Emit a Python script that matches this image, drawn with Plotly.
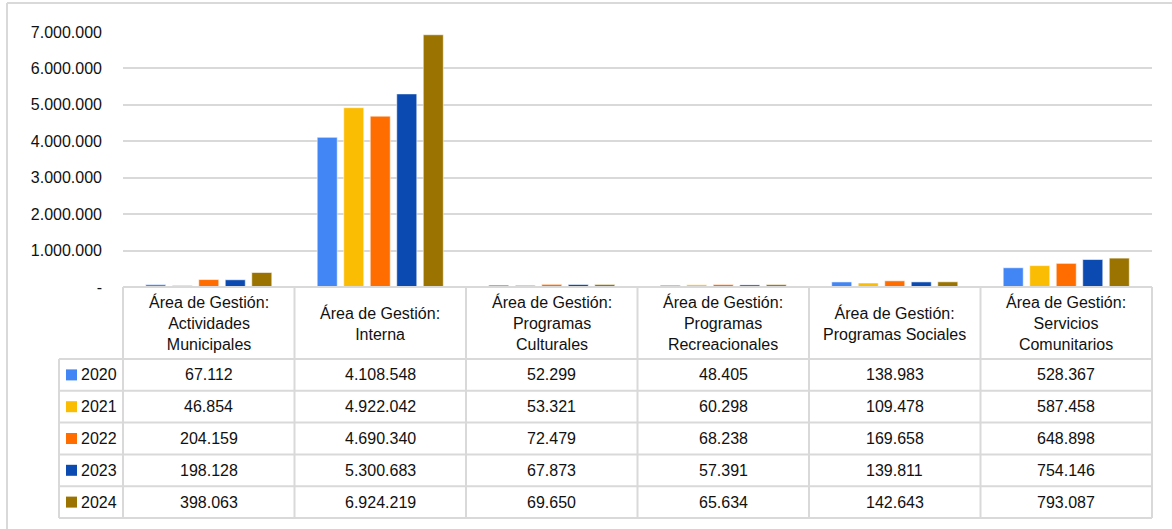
import plotly.graph_objects as go

# Management areas (table headers) and yearly amounts
categories = [
    "Área de Gestión: Actividades Municipales",
    "Área de Gestión: Interna",
    "Área de Gestión: Programas Culturales",
    "Área de Gestión: Programas Recreacionales",
    "Área de Gestión: Programas Sociales",
    "Área de Gestión: Servicios Comunitarios",
]
header_labels = [
    "Área de Gestión:<br>Actividades<br>Municipales",
    "Área de Gestión:<br>Interna",
    "Área de Gestión:<br>Programas<br>Culturales",
    "Área de Gestión:<br>Programas<br>Recreacionales",
    "Área de Gestión:<br>Programas Sociales",
    "Área de Gestión:<br>Servicios<br>Comunitarios",
]
years = ["2020", "2021", "2022", "2023", "2024"]
values_2020 = [67112, 4108548, 52299, 48405, 138983, 528367]
values_2021 = [46854, 4922042, 53321, 60298, 109478, 587458]
values_2022 = [204159, 4690340, 72479, 68238, 169658, 648898]
values_2023 = [198128, 5300683, 67873, 57391, 139811, 754146]
values_2024 = [398063, 6924219, 69650, 65634, 142643, 793087]
series = [values_2020, values_2021, values_2022, values_2023, values_2024]
colors = ["#4285F4", "#FBBC04", "#FF6D01", "#0B4AB0", "#9A7300"]

tick_values = [0, 1000000, 2000000, 3000000, 4000000, 5000000, 6000000, 7000000]
tick_labels = ["-", "1.000.000", "2.000.000", "3.000.000", "4.000.000",
               "5.000.000", "6.000.000", "7.000.000"]

FONT = "Liberation Sans, Arial, sans-serif"
TEXT = "#111111"
LINE = "#d9d9d9"

W, H = 1172, 529
ML, MR, MT, MB = 123, 20, 32, 242
PW = W - ML - MR
PH = H - MT - MB
BASE = H - MB  # pixel row of the value axis baseline


def fmt(v):
    return f"{v:,}".replace(",", ".")


def px_x(p):
    return (p - ML) / PW


def px_y(p):
    return (BASE - p) / PH


fig = go.Figure()
for year, vals, col in zip(years, series, colors):
    fig.add_trace(go.Bar(
        x=categories, y=vals, name=year,
        marker=dict(color=col, line=dict(color="rgba(255,255,255,0.55)", width=1)),
        hovertemplate="%{x}<br>" + year + ": %{y:,}<extra></extra>",
    ))

shapes = []
annotations = []

# data table geometry (pixels)
header_top = BASE
header_bot = 359
row_h = 31.8
row_tops = [header_bot + i * row_h for i in range(len(years) + 1)]
legend_left = 59
ncat = len(categories)

line = dict(color=LINE, width=2)

# horizontal table rules
shapes.append(dict(type="line", xref="paper", yref="paper",
                   x0=0, x1=1, y0=px_y(header_top), y1=px_y(header_top), line=line))
for yy in row_tops:
    shapes.append(dict(type="line", xref="paper", yref="paper",
                       x0=px_x(legend_left), x1=1, y0=px_y(yy), y1=px_y(yy), line=line))
# vertical table rules
for k in range(ncat + 1):
    shapes.append(dict(type="line", xref="paper", yref="paper",
                       x0=k / ncat, x1=k / ncat, y0=px_y(header_top), y1=px_y(row_tops[-1]),
                       line=line))
shapes.append(dict(type="line", xref="paper", yref="paper",
                   x0=px_x(legend_left), x1=px_x(legend_left),
                   y0=px_y(header_bot), y1=px_y(row_tops[-1]), line=line))

# outer chart frame (left and top edges)
shapes.append(dict(type="line", xref="paper", yref="paper",
                   x0=px_x(7), x1=px_x(7), y0=px_y(3), y1=px_y(H + 5), line=line))
shapes.append(dict(type="line", xref="paper", yref="paper",
                   x0=px_x(7), x1=px_x(W + 5), y0=px_y(3), y1=px_y(3), line=line))

# header cells
for cat, lab in zip(categories, header_labels):
    annotations.append(dict(x=cat, xref="x", y=px_y((header_top + header_bot) / 2), yref="paper",
                            text=lab, showarrow=False, xanchor="center", yanchor="middle",
                            font=dict(family=FONT, size=16, color=TEXT)))

# value rows with legend keys
for i, (year, vals, col) in enumerate(zip(years, series, colors)):
    yc = row_tops[i] + row_h / 2
    shapes.append(dict(type="rect", xref="paper", yref="paper",
                       x0=px_x(66), x1=px_x(77), y0=px_y(yc - 5.5), y1=px_y(yc + 5.5),
                       fillcolor=col, line=dict(width=0)))
    annotations.append(dict(x=px_x(79), xref="paper", y=px_y(yc), yref="paper",
                            text=year, showarrow=False, xanchor="left", yanchor="middle",
                            font=dict(family=FONT, size=16, color=TEXT)))
    for cat, v in zip(categories, vals):
        annotations.append(dict(x=cat, xref="x", y=px_y(yc), yref="paper",
                                text=fmt(v), showarrow=False, xanchor="center", yanchor="middle",
                                font=dict(family=FONT, size=16, color=TEXT)))

fig.update_layout(
    width=W, height=H,
    margin=dict(l=ML, r=MR, t=MT, b=MB),
    paper_bgcolor="white", plot_bgcolor="white",
    barmode="group", bargap=0.227, bargroupgap=0.245,
    showlegend=False,
    font=dict(family=FONT, size=16, color=TEXT),
    xaxis=dict(showticklabels=False, showgrid=False, zeroline=False, showline=False,
               range=[-0.5, ncat - 0.5], fixedrange=True),
    yaxis=dict(range=[0, 7000000], tickvals=tick_values, ticktext=tick_labels,
               showgrid=True, gridcolor=LINE, gridwidth=2, zeroline=False, showline=False,
               ticks="", ticklabelstandoff=20,
               tickfont=dict(family=FONT, size=16, color=TEXT), fixedrange=True),
    shapes=shapes,
    annotations=annotations,
)

fig.write_html("out.html")
